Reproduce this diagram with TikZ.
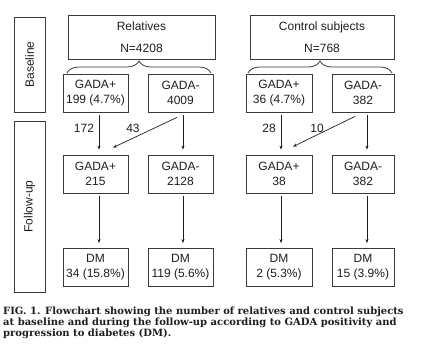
\documentclass[tikz,border=0pt]{standalone}
\usepackage{fontspec}
\newfontfamily\diagfont{Liberation Sans}
\newfontfamily\capfont{DejaVu Serif}
\usepackage{xcolor}
\usetikzlibrary{arrows.meta,positioning,decorations.pathreplacing}
\definecolor{Ink}{HTML}{1E1E1E}
\definecolor{Edge}{HTML}{3A3A3A}
\tikzset{
  flowbox/.style={draw=Edge,line width=0.8pt,minimum width=65pt,minimum height=38pt,inner sep=0pt,align=center,text=Ink,font=\diagfont\fontsize{12}{15}\selectfont},
  headbox/.style={flowbox,minimum width=147pt,minimum height=44pt},
  sidebox/.style={flowbox,minimum height=31pt,rotate=90},
  arrow/.style={-{Stealth[length=4pt,width=3pt]},line width=0.7pt,draw=Ink,shorten <=3pt,shorten >=5pt},
  brace/.style={decorate,decoration={brace,amplitude=12pt},draw=Edge,line width=0.8pt},
  numlab/.style={text=Ink,font=\diagfont\fontsize{12}{14}\selectfont},
  caption/.style={anchor=north west,align=left,inner sep=0pt,text=Ink,font=\capfont\bfseries\fontsize{10}{8.8}\selectfont}
}
\begin{document}
\begin{tikzpicture}[x=1pt,y=-1pt]
  \useasboundingbox (0,0) rectangle (423,361);
  % phases
  \node[sidebox,minimum width=95pt] (base) at (29.5,64.5) {Baseline};
  \node[sidebox,minimum width=171pt] (follow) at (29.5,206.5) {Follow-up};
  % relatives
  \node[headbox] (rel) at (141.5,37) {Relatives\\[7pt]N=4208};
  \node[flowbox] (rp0) at (95.5,93) {GADA+\\199 (4.7\%)};
  \node[flowbox] (rn0) at (180.5,93) {GADA-\\4009};
  \node[flowbox] (rp1) at (95.5,174) {GADA+\\215};
  \node[flowbox] (rn1) at (180.5,174) {GADA-\\2128};
  \node[flowbox] (rp2) at (95.5,267.5) {DM\\34 (15.8\%)};
  \node[flowbox] (rn2) at (180.5,267.5) {DM\\119 (5.6\%)};
  % control subjects
  \node[headbox,minimum width=144pt] (ctl) at (322,37) {Control subjects\\[7pt]N=768};
  \node[flowbox,minimum width=66pt] (cp0) at (279,93) {GADA+\\36 (4.7\%)};
  \node[flowbox,minimum width=62pt] (cn0) at (363,93) {GADA-\\382};
  \node[flowbox,minimum width=66pt] (cp1) at (279,174) {GADA+\\38};
  \node[flowbox,minimum width=62pt] (cn1) at (363,174) {GADA-\\382};
  \node[flowbox,minimum width=66pt] (cp2) at (279,267.5) {DM\\2 (5.3\%)};
  \node[flowbox,minimum width=62pt] (cn2) at (363,267.5) {DM\\15 (3.9\%)};
  % braces
  \draw[brace] (67,73) -- (211,73);
  \draw[brace] (248,73) -- (392,73);
  % arrows
  \draw[arrow] ([xshift=3.5pt]rp0.south) -- ([xshift=3.5pt]rp1.north);
  \draw[arrow] ([xshift=2.5pt]rn0.south) -- ([xshift=2.5pt]rn1.north);
  \draw[arrow,shorten <=0pt,shorten >=0pt] ([xshift=-3.5pt,yshift=-5pt]rn0.south) -- ([xshift=17.5pt,yshift=7pt]rp1.north);
  \draw[arrow] ([xshift=3.5pt]rp1.south) -- ([xshift=3.5pt]rp2.north);
  \draw[arrow] ([xshift=2.5pt]rn1.south) -- ([xshift=2.5pt]rn2.north);
  \draw[arrow] ([xshift=2pt]cp0.south) -- ([xshift=2pt]cp1.north);
  \draw[arrow] ([xshift=4pt]cn0.south) -- ([xshift=4pt]cn1.north);
  \draw[arrow,shorten <=0pt,shorten >=0pt] ([xshift=-8pt,yshift=-4pt]cn0.south) -- ([xshift=14pt,yshift=8pt]cp1.north);
  \draw[arrow] ([xshift=2pt]cp1.south) -- ([xshift=2pt]cp2.north);
  \draw[arrow] ([xshift=4pt]cn1.south) -- ([xshift=4pt]cn2.north);
  \node[numlab] (n172) at (84,128) {172};
  \node[numlab] (n43) at (133,128) {43};
  \node[numlab] (n28) at (269,128) {28};
  \node[numlab] (n10) at (317,128) {10};
  % caption
  \node[caption] (cap) at (3,307) {FIG. 1. Flowchart showing the number of relatives and control subjects\\at baseline and during the follow-up according to GADA positivity and\\progression to diabetes (DM).};
\end{tikzpicture}
\end{document}
